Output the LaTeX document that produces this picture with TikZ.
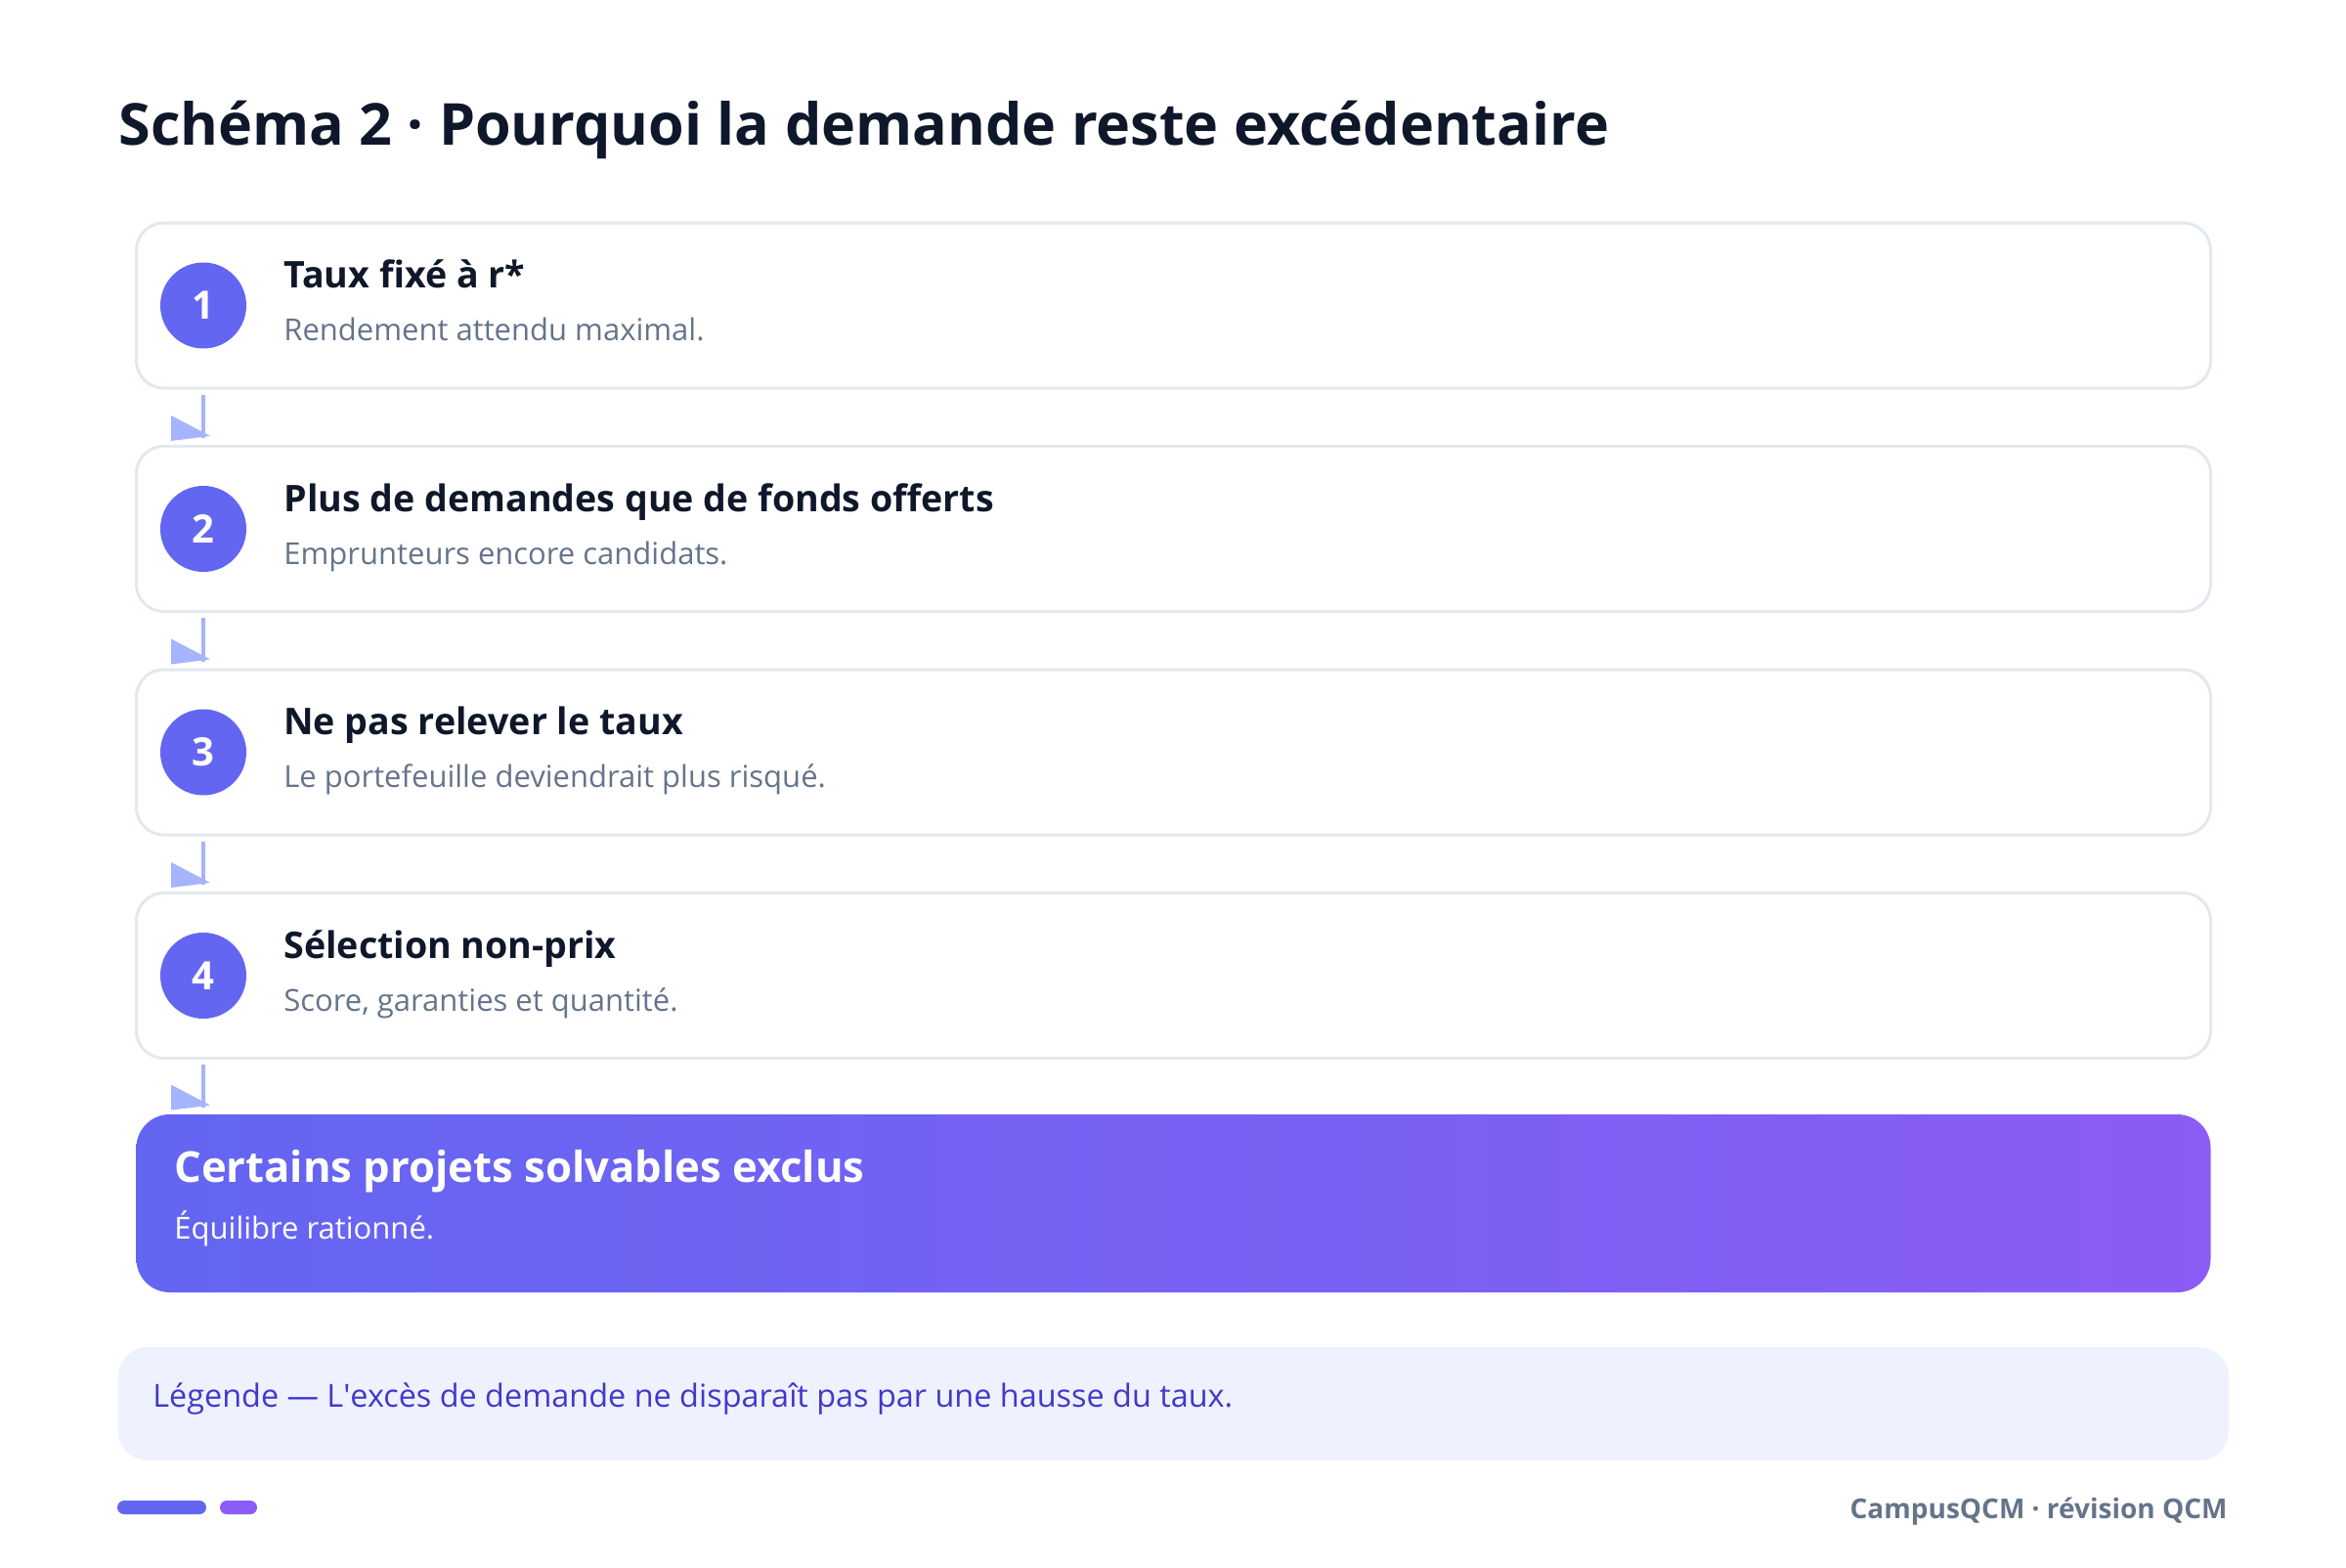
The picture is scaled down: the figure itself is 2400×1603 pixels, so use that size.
\documentclass[tikz,border=0pt]{standalone}
\usepackage{fontspec}
\setmainfont{Open Sans}
\usetikzlibrary{calc,positioning}

\definecolor{ink}{HTML}{0F172A}
\definecolor{muted}{HTML}{64748B}
\definecolor{cardline}{HTML}{E2E8F0}
\definecolor{indigo}{HTML}{6366F1}
\definecolor{violet}{HTML}{8B5CF6}
\definecolor{flowc}{HTML}{A5B4FC}
\definecolor{legfill}{HTML}{EEF2FF}
\definecolor{legtext}{HTML}{4338CA}

% straight apostrophe, not mapped to a curly one
\newcommand{\apos}{\XeTeXglyph\XeTeXcharglyph"27\relax}

\begin{document}
\begin{tikzpicture}[x=0.5pt, y=-0.5pt,
  card/.style={draw=cardline, line width=1.5pt, fill=white, rounded corners=14pt,
    minimum width=1061pt, minimum height=84.5pt, inner sep=0pt},
  badge/.style={circle, fill=indigo, text=white, minimum size=44pt, inner sep=0pt,
    font=\fontsize{20}{24}\selectfont\bfseries},
  steptitle/.style={anchor=base west, inner sep=0pt, text=ink,
    font=\fontsize{18.8}{22}\selectfont\bfseries},
  stepsub/.style={anchor=base west, inner sep=0pt, text=muted,
    font=\fontsize{15.5}{19}\selectfont},
  flow/.style={draw=flowc, line width=2pt},
  result/.style={left color=indigo, right color=violet, rounded corners=17pt,
    minimum width=1061pt, minimum height=91pt, inner sep=0pt}
]

\useasboundingbox (0,0) rectangle (2400,1603);

% Title
\node[anchor=base west, inner sep=0pt, text=ink, font=\fontsize{29.6}{35}\selectfont\bfseries]
  (title) at (121,148) {Schéma 2 · Pourquoi la demande reste excédentaire};

% Steps
\foreach \i/\ttl/\sub in {1/{Taux fixé à r*}/{Rendement attendu maximal.},
  2/{Plus de demandes que de fonds offerts}/{Emprunteurs encore candidats.},
  3/{Ne pas relever le taux}/{Le portefeuille deviendrait plus risqué.},
  4/{Sélection non-prix}/{Score, garanties et quantité.}} {
  \pgfmathsetmacro{\y}{312.5 + 228.5*(\i-1)}
  \node[card] (c\i) at (1200.5,\y) {};
  \node[badge] (k\i) at (208,\y) {\i};
  \node[steptitle] (t\i) at (290,\y-18) {\ttl};
  \node[stepsub] (s\i) at (290,\y+36) {\sub};
}

% Outcome
\node[result] (res) at (1200.5,1231) {};
\node[anchor=base west, inner sep=0pt, text=white, font=\fontsize{21.8}{26}\selectfont\bfseries]
  (rt) at (178,1209) {Certains projets solvables exclus};
\node[anchor=base west, inner sep=0pt, text=white, font=\fontsize{15.5}{19}\selectfont]
  (rs) at (178,1267) {Équilibre rationné.};

% Connectors
\foreach \i/\j in {1/c2,2/c3,3/c4,4/res} {
  \draw[flow] ($(c\i.south -| k\i)+(0,5)$) -- ($(\j.north -| k\i)+(0,-7)$) coordinate (e\i);
  \fill[flowc] ($(e\i)+(-33,-23)$) -- ($(e\i)+(-33,3)$) -- ($(e\i)+(7,-2)$) -- cycle;
}

% Legend
\node[fill=legfill, rounded corners=15pt, minimum width=1079.5pt, minimum height=58pt,
  inner sep=0pt] (leg) at (1200.5,1436) {};
\node[anchor=base west, inner sep=0pt, text=legtext, font=\fontsize{16.2}{20}\selectfont]
  (legt) at (156,1439) {Légende — L\apos excès de demande ne disparaît pas par une hausse du taux.};

% Footer
\fill[indigo, rounded corners=3.5pt] (120,1535) rectangle (211,1549);
\fill[violet, rounded corners=3.5pt] (225,1535) rectangle (263,1549);
\node[anchor=base east, inner sep=0pt, text=muted, font=\fontsize{14}{17}\selectfont\bfseries]
  (foot) at (2279,1553) {CampusQCM · révision QCM};

\end{tikzpicture}
\end{document}
